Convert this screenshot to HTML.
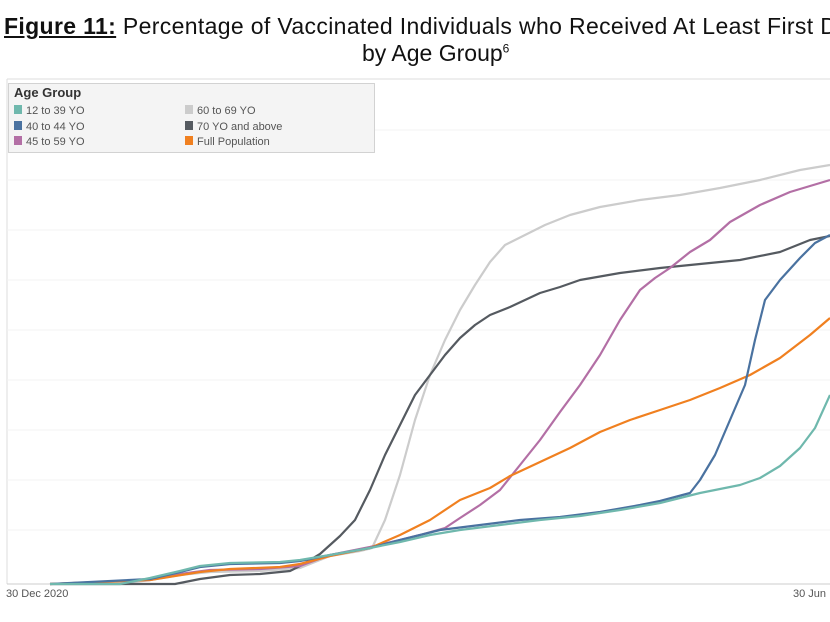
<!DOCTYPE html><html><head><style>
body{margin:0;width:830px;height:622px;background:#fff;overflow:hidden;font-family:"Liberation Sans",sans-serif}
.t{position:absolute;left:0;top:12px;width:1000px;white-space:nowrap;font-size:23px;color:#111}
</style></head><body>
<div class="t" style="left:4px;top:13px;letter-spacing:0.35px"><b><u>Figure 11:</u></b> Percentage of Vaccinated Individuals who Received At Least First Dose</div>
<div class="t" style="left:362px;top:40px">by Age Group<sup style="font-size:12px">6</sup></div>
<svg width="830" height="622" style="position:absolute;left:0;top:0" font-family="Liberation Sans,sans-serif">
<line x1="7" y1="79" x2="830" y2="79" stroke="#ddd"/>
<line x1="7" y1="79" x2="7" y2="584" stroke="#ddd"/>
<g stroke="#f3f3f3">
<line x1="7" y1="130" x2="830" y2="130"/><line x1="7" y1="180" x2="830" y2="180"/><line x1="7" y1="230" x2="830" y2="230"/><line x1="7" y1="280" x2="830" y2="280"/><line x1="7" y1="330" x2="830" y2="330"/><line x1="7" y1="380" x2="830" y2="380"/><line x1="7" y1="430" x2="830" y2="430"/><line x1="7" y1="480" x2="830" y2="480"/><line x1="7" y1="530" x2="830" y2="530"/></g>
<line x1="7" y1="584" x2="830" y2="584" stroke="#ccc"/>
<text x="6" y="597" font-size="11" fill="#555">30 Dec 2020</text>
<text x="793" y="597" font-size="11" fill="#555">30 Jun</text>
<rect x="8.5" y="83.5" width="366" height="69" fill="#f4f4f4" stroke="#aaa" stroke-dasharray="1,1"/>
<text x="14" y="97" font-size="13" font-weight="bold" fill="#333">Age Group</text>
<g font-size="11" fill="#555">
<rect x="14" y="105" width="8" height="9" fill="#6fb8ad"/><text x="26" y="114">12 to 39 YO</text>
<rect x="14" y="121" width="8" height="9" fill="#4a72a0"/><text x="26" y="130">40 to 44 YO</text>
<rect x="14" y="136" width="8" height="9" fill="#b36fa5"/><text x="26" y="145">45 to 59 YO</text>
<rect x="185" y="105" width="8" height="9" fill="#ccc"/><text x="197" y="114">60 to 69 YO</text>
<rect x="185" y="121" width="8" height="9" fill="#555a60"/><text x="197" y="130">70 YO and above</text>
<rect x="185" y="136" width="8" height="9" fill="#f08020"/><text x="197" y="145">Full Population</text>
</g>
<g fill="none" stroke-width="2.2" stroke-linejoin="round">
<polyline stroke="#ccc" points="50,584 120,584 150,580 180,575 210,572 260,571 300,568 330,556 360,551 372,548 385,520 400,475 415,420 430,375 445,340 460,310 475,285 490,262 505,245 525,235 545,225 570,215 600,207 640,200 680,195 720,188 760,180 800,170 830,165"/>
<polyline stroke="#555a60" points="50,584 175,584 200,579 230,575 260,574 290,571 300,566 320,554 340,536 355,520 370,490 385,455 400,425 415,395 430,375 445,355 460,338 475,325 490,315 510,307 525,300 540,293 560,287 580,280 620,273 660,268 700,264 740,260 780,252 810,240 830,236"/>
<polyline stroke="#b36fa5" points="50,584 150,580 180,574 210,570 260,569 300,566 330,555 370,547 400,540 420,535 445,528 460,518 480,505 500,490 520,465 540,440 560,412 580,385 600,355 620,320 640,290 655,278 670,268 690,252 710,240 730,222 760,205 790,192 830,180"/>
<polyline stroke="#f08020" points="50,584 150,580 175,576 200,572 230,569 280,567 300,564 330,556 370,548 400,535 430,520 460,500 490,488 510,476 540,462 570,448 600,432 630,420 660,410 690,400 720,388 750,375 780,358 810,335 830,318"/>
<polyline stroke="#4a72a0" points="50,584 150,579 180,572 200,567 230,564 280,563 300,561 330,555 370,548 400,540 440,530 480,525 520,520 560,517 600,512 640,505 660,501 690,493 700,480 715,455 730,420 745,385 755,340 765,300 780,280 800,258 815,243 830,235"/>
<polyline stroke="#6fb8ad" points="50,584 120,584 150,578 180,571 200,566 230,563 280,562 300,560 330,555 370,548 400,542 430,535 460,530 500,525 540,520 580,516 620,510 660,503 700,493 740,485 760,478 780,466 800,448 815,428 830,395"/>
</g>
</svg>
</body></html>
